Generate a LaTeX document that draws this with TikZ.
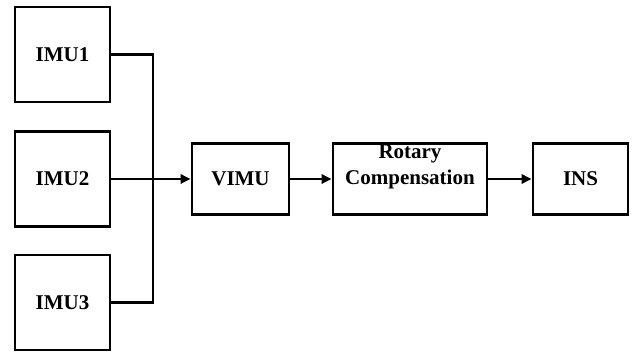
\documentclass[tikz,border=0pt]{standalone}
\usepackage{fontspec}
\setmainfont{Liberation Serif}
\usetikzlibrary{arrows.meta}
\tikzset{blk/.style={draw, line width=2.6pt, inner sep=0pt, minimum height=71pt, font=\fontsize{21}{23}\selectfont\bfseries},
imu/.style={blk, minimum width=95pt, minimum height=95pt},
con/.style={line width=2.6pt},
arr/.style={con, -{Triangle[length=10pt,width=9pt]}}}
\begin{document}
\begin{tikzpicture}[x=1pt,y=-1pt]
\useasboundingbox (0,0) rectangle (636,352);
\node[imu] (imu1) at (62.5,54.5) {IMU1};
\node[imu] (imu2) at (62.5,179) {IMU2};
\node[imu] (imu3) at (62.5,302.5) {IMU3};
	\coordinate (j) at (153,179);
	\node[blk, minimum width=97pt] (vimu) at (240.5,179) {VIMU};
	\node[blk, minimum width=154pt, label={[anchor=base, label distance=-16pt, font=\fontsize{21}{23}\selectfont\bfseries]above:Rotary}] (rot) at (410,179) {Compensation};
	\node[blk, minimum width=95pt] (ins) at (580.5,179) {INS};
\draw[con] (imu1) -| (j);
\draw[con] (imu3) -| (j);
\draw[arr] (imu2) -- (vimu);
\draw[arr] (vimu) -- (rot);
\draw[arr] (rot) -- (ins);
\end{tikzpicture}
\end{document}
